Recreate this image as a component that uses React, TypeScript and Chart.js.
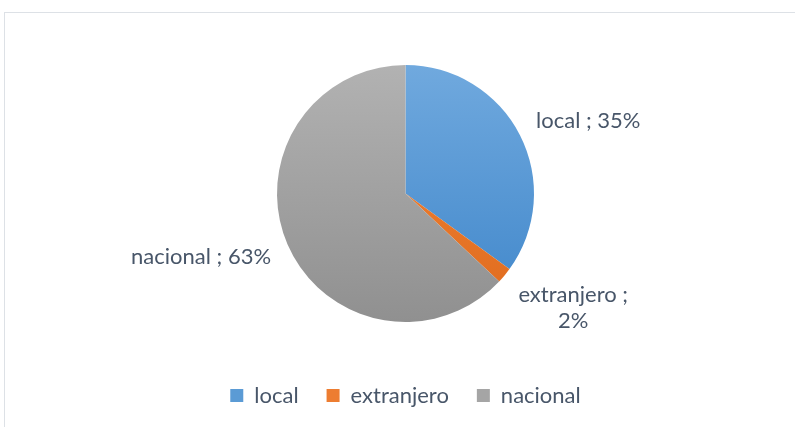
import React, { useEffect, useRef } from "react";
import { Chart, registerables } from "chart.js";

Chart.register(...registerables);

const categories = ["local", "extranjero", "nacional"];
const values = [35, 2, 63];
const topColors = ["#70a9de", "#f2883c", "#b2b2b2"];
const bottomColors = ["#3f86ca", "#df6a1c", "#909090"];
const baseColors = ["#5b9bd5", "#ed7d31", "#a5a5a5"];

const FONT = "Lato, 'Open Sans', sans-serif";
const TEXT_COLOR = "#485669";
const PIE_RADIUS = 128.5;

const labelPlugin = {
  id: "outsideLabels",
  afterDatasetsDraw(chart: any) {
    const meta = chart.getDatasetMeta(0);
    const ctx = chart.ctx;
    const total = values.reduce((a, b) => a + b, 0);
    ctx.save();
    ctx.font = `22px ${FONT}`;
    ctx.fillStyle = TEXT_COLOR;
    ctx.textBaseline = "alphabetic";
    meta.data.forEach((arc: any, i: number) => {
      const pct = Math.round((values[i] / total) * 100);
      const lines =
        values[i] / total < 0.05
          ? [`${categories[i]} ;`, `${pct}%`]
          : [`${categories[i]} ; ${pct}%`];
      const mid = (arc.startAngle + arc.endAngle) / 2;
      const dx = Math.cos(mid);
      const dy = Math.sin(mid);
      const R = arc.outerRadius + 18;
      const ax = arc.x + dx * R;
      const ay = arc.y + dy * R;
      const lh = 26;
      const h = lines.length * lh - 4;
      const w = Math.max(...lines.map((l) => ctx.measureText(l).width));
      const left = dx >= 0 ? ax : ax - w;
      const top = ay - h / 2 + dy * h * 0.62 + (lines.length > 1 ? 2 : 0);
      lines.forEach((l, j) => {
        const lw = ctx.measureText(l).width;
        ctx.fillText(l, left + (w - lw) / 2, top + j * lh + 18);
      });
    });
    ctx.restore();
  },
};

export default function App() {
  const ref = useRef<HTMLCanvasElement>(null);
  useEffect(() => {
    document.body.style.margin = "0";
    const canvas = ref.current!;
    const chart = new Chart(canvas, {
      type: "pie",
      data: {
        labels: categories,
        datasets: [
          {
            data: values,
            borderWidth: 0,
            hoverOffset: 0,
            backgroundColor: (c: any) => {
              const ca = c.chart.chartArea;
              if (!ca) return baseColors[c.dataIndex];
              const cy = (ca.top + ca.bottom) / 2;
              const g = c.chart.ctx.createLinearGradient(0, cy - PIE_RADIUS, 0, cy + PIE_RADIUS);
              g.addColorStop(0, topColors[c.dataIndex]);
              g.addColorStop(1, bottomColors[c.dataIndex]);
              return g;
            },
          },
        ],
      },
      options: {
        animation: false,
        responsive: false,
        maintainAspectRatio: false,
        radius: PIE_RADIUS,
        layout: { padding: { top: 30.5, bottom: 10.5, left: 16, right: 0 } },
        plugins: {
          tooltip: { enabled: false },
          legend: {
            position: "bottom",
            labels: {
              font: { family: FONT, size: 22 },
              color: TEXT_COLOR,
              boxWidth: 13,
              boxHeight: 13,
              padding: 28,
              generateLabels: () =>
                categories.map((c, i) => ({
                  text: c,
                  fillStyle: baseColors[i],
                  strokeStyle: baseColors[i],
                  lineWidth: 0,
                  hidden: false,
                  index: i,
                  fontColor: TEXT_COLOR,
                })),
            },
          },
        },
      } as any,
      plugins: [labelPlugin],
    });
    return () => chart.destroy();
  }, []);
  return (
    <div style={{ position: "fixed", left: 0, top: 0, width: 795, height: 427, background: "#fff" }}>
      <div
        style={{
          position: "absolute",
          left: 4,
          top: 12,
          right: 0,
          bottom: 0,
          borderLeft: "1px solid #dde1e6",
          borderTop: "1px solid #dde1e6",
        }}
      />
      <canvas ref={ref} width={795} height={427} style={{ position: "absolute", left: 0, top: 0 }} />
    </div>
  );
}
